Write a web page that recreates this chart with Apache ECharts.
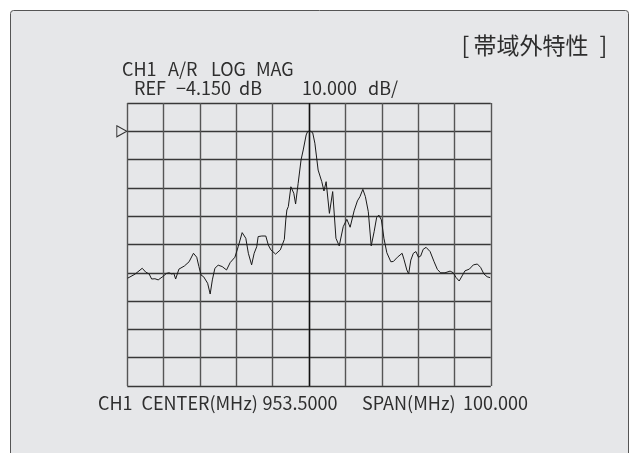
<!DOCTYPE html>
<html lang="ja">
<head>
  <meta charset="UTF-8">
  <title>帯域外特性</title>
  <script src="https://cdn.jsdelivr.net/npm/echarts@6/dist/echarts.min.js"></script>
  <style>
    html, body { margin: 0; padding: 0; background: #fff; }
    #main { width: 639px; height: 453px; }
  </style>
</head>
<body>
<div id="main"></div>
<script>
  // 周波数: センターからのオフセット (MHz), 10 MHz/div, SPAN 100 MHz
  var freqOffset = [
    -49.9, -47.9, -45.9, -44.9, -44.0, -43.3, -42.4, -41.5, -40.4, -39.2,
    -38.5, -37.8, -37.2, -36.7, -35.8, -34.3, -33.0, -31.8, -30.9, -30.3,
    -29.7, -29.0, -27.9, -27.2, -26.6, -25.9, -25.0, -23.9, -22.7, -21.7,
    -20.4, -19.5, -18.4, -17.4, -16.7, -15.8, -15.1, -14.4, -14.0, -13.0,
    -11.9, -11.2, -10.5, -9.2, -7.9, -6.8, -6.4, -6.1, -5.7, -5.0,
    -4.2, -3.7, -3.0, -2.2, -1.6, -0.8, -0.4, 0.3, 1.0, 1.6,
    2.5, 3.5, 4.1, 4.7, 5.6, 6.5, 7.4, 8.3, 9.4, 10.4,
    11.3, 12.4, 13.3, 14.0, 14.8, 15.5, 16.3, 17.1, 17.9, 18.6,
    19.2, 19.9, 20.6, 21.4, 22.5, 23.2, 24.3, 25.6, 26.1, 26.9,
    27.4, 28.0, 28.7, 29.4, 30.1, 30.7, 31.4, 32.2, 33.3, 34.4,
    35.3, 36.2, 37.4, 38.8, 39.7, 40.4, 41.3, 42.1, 42.9, 44.1,
    45.2, 46.3, 47.2, 48.1, 49.0, 49.8
  ];
  // レベル: REF (-4.150 dB) からの相対値 (dB), 10 dB/div
  var levelRel = [
    -51.9, -50.5, -48.4, -49.8, -50.4, -52.2, -52.1, -52.5, -51.5, -50.2,
    -50.0, -50.4, -50.2, -52.2, -48.7, -47.6, -46.1, -43.1, -44.5, -47.8,
    -50.8, -51.4, -53.7, -57.5, -52.5, -48.4, -47.3, -47.8, -49.0, -46.4,
    -44.5, -40.8, -35.8, -37.8, -43.1, -47.2, -43.1, -40.8, -37.2, -37.0,
    -37.0, -40.2, -41.9, -43.4, -41.9, -38.2, -31.3, -27.8, -26.6, -19.6,
    -21.9, -25.7, -18.4, -10.1, -6.6, -1.3, -0.1, 0.1, -0.5, -4.2,
    -13.7, -17.8, -21.1, -17.8, -29.0, -21.3, -37.8, -40.5, -33.7, -31.1,
    -33.9, -28.1, -24.6, -23.1, -20.5, -23.1, -28.4, -40.5, -35.5, -30.4,
    -29.6, -31.3, -37.8, -42.9, -46.1, -46.0, -44.5, -43.1, -45.2, -49.0,
    -50.4, -45.5, -43.1, -42.5, -44.5, -44.1, -41.7, -41.0, -42.5, -46.1,
    -48.8, -50.0, -50.0, -49.4, -50.0, -51.6, -52.9, -51.1, -49.3, -48.7,
    -47.2, -46.9, -48.1, -50.4, -51.4, -51.7
  ];

  // 表示テキスト (画面上では語ごとに間隔を空けて並ぶ)
  var titleWords = ['[', '帯域外特性', ']'];
  var headWords = ['CH1', 'A/R', 'LOG', 'MAG'];
  var refWords = ['REF', '\u22124.150', 'dB', '10.000', 'dB/'];
  var footWords = ['CH1', 'CENTER(MHz)', '953.5000', 'SPAN(MHz)', '100.000'];

  var trace = freqOffset.map(function (f, i) {
    return [f, levelRel[i]];
  });

  var FONT = '"Noto Sans CJK JP", "Noto Sans", sans-serif';
  var INK = '#2e2e2e';

  function words(list, xs, y, size) {
    return list.map(function (w, i) {
      return {
        type: 'text',
        z: 10,
        style: {
          text: w,
          x: xs[i],
          y: y,
          fill: INK,
          font: size + 'px ' + FONT,
          verticalAlign: 'middle'
        }
      };
    });
  }

  var graphics = [{
    type: 'rect',
    z: -10,
    shape: { x: 10.5, y: 10.5, width: 618, height: 470, r: 3 },
    style: { fill: '#e6e7e9', stroke: '#555', lineWidth: 1 }
  }]
    .concat(words(titleWords, [461.5, 473.5, 599.5], 45, 23))
    .concat(words(headWords, [122, 168, 211, 256], 69, 18))
    .concat(words(refWords, [134, 176, 239, 302, 368], 88, 18))
    .concat(words(footWords, [98, 141.5, 262.5, 362, 463], 403, 18));

  var myChart = echarts.init(document.getElementById('main'));
  myChart.setOption({
    animation: false,
    backgroundColor: '#fff',
    graphic: graphics,
    grid: {
      left: 127.3,
      top: 103,
      width: 363.5,
      height: 283
    },
    xAxis: {
      type: 'value',
      min: -50,
      max: 50,
      interval: 10,
      axisLine: { show: false },
      axisTick: { show: false },
      axisLabel: { show: false },
      splitLine: { show: true, lineStyle: { color: '#555', width: 1.4 } }
    },
    yAxis: {
      type: 'value',
      min: -90,
      max: 10,
      interval: 10,
      axisLine: { show: false },
      axisTick: { show: false },
      axisLabel: { show: false },
      splitLine: { show: true, lineStyle: { color: '#383838', width: 1.3 } }
    },
    series: [
      {
        type: 'line',
        data: trace,
        showSymbol: false,
        silent: true,
        lineStyle: { color: '#1a1a1a', width: 1 },
        markLine: {
          silent: true,
          symbol: 'none',
          label: { show: false },
          lineStyle: { color: '#111', width: 1.4, type: 'solid' },
          data: [{ xAxis: 0 }]
        },
        markPoint: {
          silent: true,
          symbol: 'path://M0,0 L10,5.5 L0,11 Z',
          symbolSize: [10, 11],
          symbolOffset: [-5.5, 0],
          label: { show: false },
          itemStyle: { color: 'rgba(0,0,0,0)', borderColor: '#333', borderWidth: 1 },
          data: [{ coord: [-50, 0] }]
        }
      }
    ]
  });
</script>
</body>
</html>
